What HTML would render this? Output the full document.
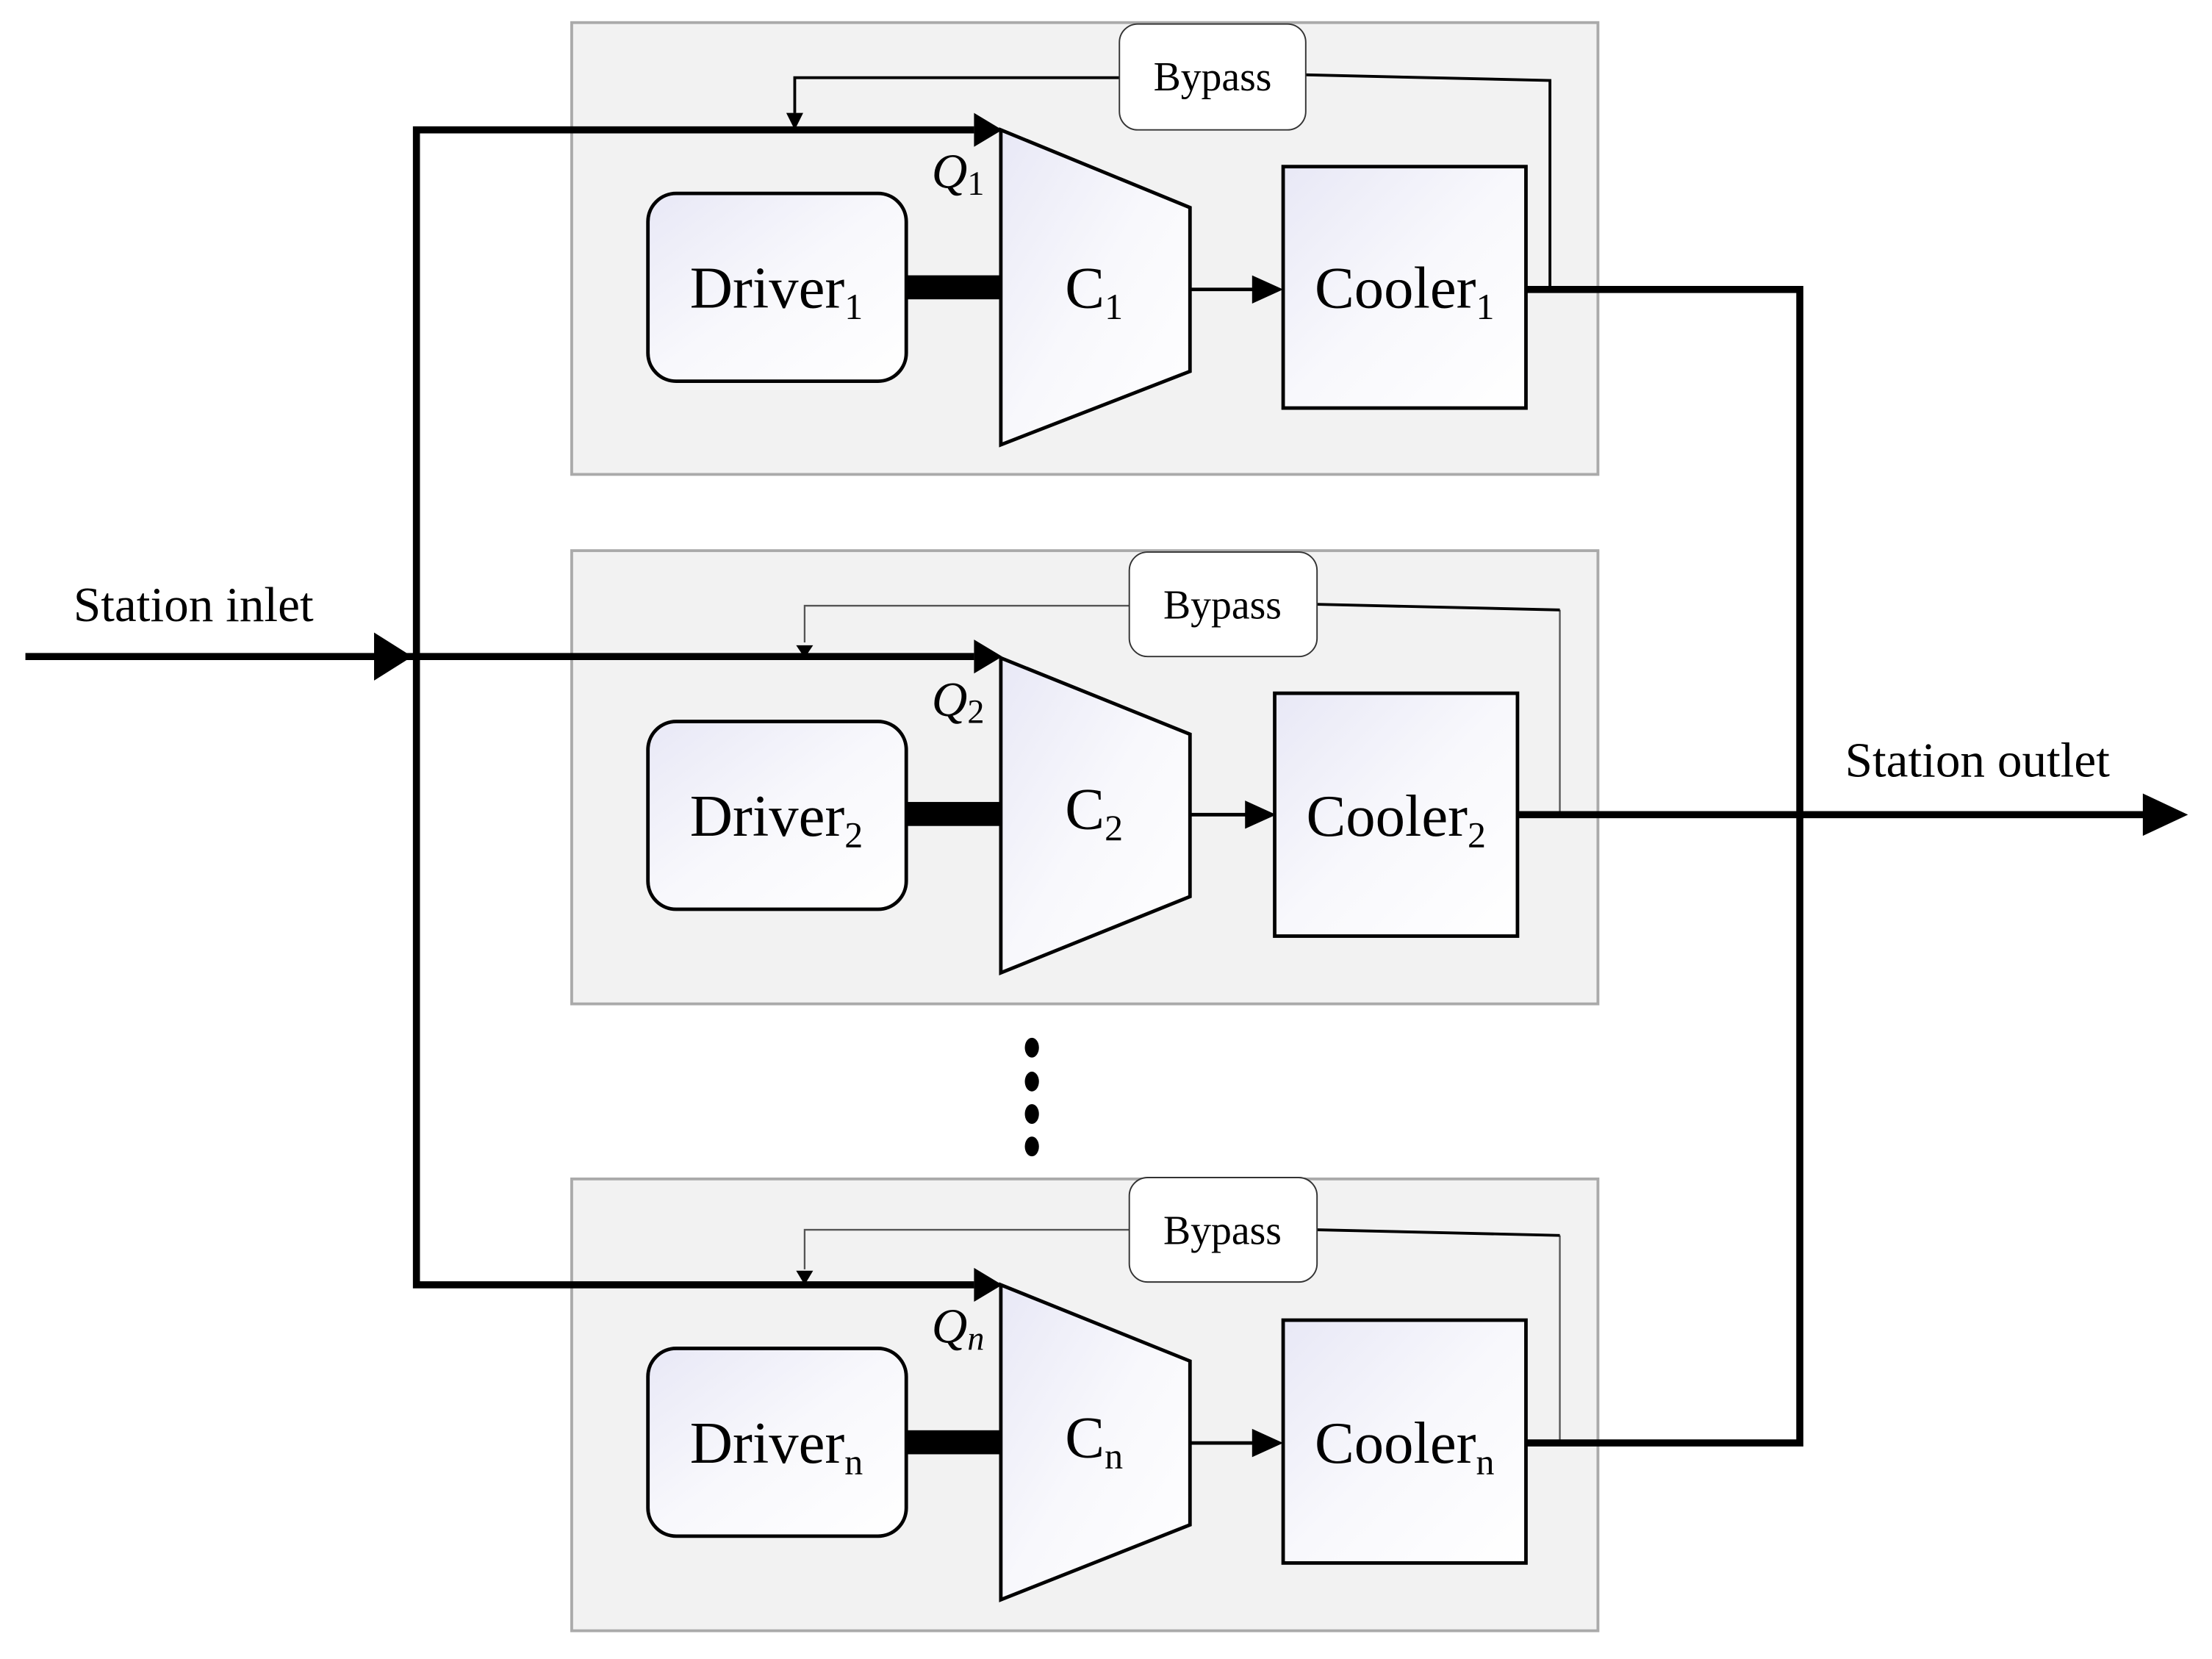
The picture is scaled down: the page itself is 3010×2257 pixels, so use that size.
<!DOCTYPE html>
<html><head><style>html,body{margin:0;padding:0;background:#fff}svg{display:block}</style></head>
<body>
<svg width="3010" height="2257" viewBox="0 0 1567 1175" preserveAspectRatio="none" xmlns="http://www.w3.org/2000/svg" font-family="Liberation Serif, serif">
<defs>
<linearGradient id="g" x1="0" y1="0" x2="1" y2="1"><stop offset="0" stop-color="#e8e8f6"/><stop offset="0.5" stop-color="#f8f8fc"/><stop offset="1" stop-color="#ffffff"/></linearGradient>
</defs>
<g fill="#f2f2f2" stroke="#aaa" stroke-width="2">
<rect x="405" y="16" width="727" height="320"/>
<rect x="405" y="390" width="727" height="321"/>
<rect x="405" y="835" width="727" height="320"/>
</g>
<g fill="none" stroke="#000" stroke-width="2">
<polyline points="925,53 1098,57 1098,205"/>
<polyline points="793,55 563,55 563,80"/>
</g>
<polygon points="557,80 569,80 563,92" fill="#000"/>
<g fill="none" stroke="#555" stroke-width="1.2">
<polyline points="800,429 570,429 570,455"/>
<polyline points="800,871 570,871 570,899"/>
<polyline points="1105,432 1105,575"/>
<polyline points="1105,875 1105,1020"/>
</g>
<g stroke="#000" stroke-width="2" fill="none"><line x1="933" y1="428" x2="1105" y2="432"/><line x1="933" y1="871" x2="1105" y2="875"/></g>
<polygon points="564,457 576,457 570,466" fill="#000"/>
<polygon points="564,900 576,900 570,910" fill="#000"/>
<g fill="#fff" stroke="#333" stroke-width="1">
<rect x="793" y="17" width="132" height="75" rx="13"/>
<rect x="800" y="391" width="133" height="74" rx="13"/>
<rect x="800" y="834" width="133" height="74" rx="13"/>
</g>
<g font-size="29" text-anchor="middle"><text x="859" y="64">Bypass</text><text x="866" y="438">Bypass</text><text x="866" y="881">Bypass</text></g>
<g fill="none" stroke="#000" stroke-width="5">
<polyline points="690,92 295,92 295,910 690,910"/>
<line x1="18" y1="465" x2="690" y2="465"/>
<polyline points="1081,205 1275,205 1275,1022 1081,1022"/>
<line x1="1075" y1="577" x2="1520" y2="577"/>
</g>
<g fill="#000">
<polygon points="690,80 710,92 690,104"/>
<polygon points="690,453 710,465 690,477"/>
<polygon points="690,898 710,910 690,922"/>
<polygon points="265,448 292,465 265,482"/>
<polygon points="1518,562 1550,577 1518,592"/>
<rect x="642" y="195" width="67" height="17"/>
<rect x="642" y="568" width="67" height="17"/>
<rect x="642" y="1013" width="67" height="17"/>
</g>
<g stroke="#000" stroke-width="2.5"><line x1="843" y1="205" x2="892" y2="205"/><line x1="843" y1="577" x2="887" y2="577"/><line x1="843" y1="1022" x2="892" y2="1022"/></g>
<g fill="#000"><polygon points="887,195 909,205 887,215"/><polygon points="882,567 904,577 882,587"/><polygon points="887,1012 909,1022 887,1032"/></g>
<g fill="url(#g)" stroke="#000" stroke-width="2.5">
<rect x="459" y="137" width="183" height="133" rx="20"/>
<rect x="459" y="511" width="183" height="133" rx="20"/>
<rect x="459" y="955" width="183" height="133" rx="20"/>
<polygon points="709,92 843,147 843,263 709,315"/>
<polygon points="709,466 843,520 843,635 709,689"/>
<polygon points="709,910 843,964 843,1080 709,1133"/>
<rect x="909" y="118" width="172" height="171"/>
<rect x="903" y="491" width="172" height="172"/>
<rect x="909" y="935" width="172" height="172"/>
</g>
<g font-size="42" text-anchor="middle">
<text x="550" y="218">Driver<tspan font-size="26" dy="8">1</tspan></text>
<text x="550" y="592">Driver<tspan font-size="26" dy="8">2</tspan></text>
<text x="550" y="1036">Driver<tspan font-size="26" dy="8">n</tspan></text>
<text x="775" y="218">C<tspan font-size="26" dy="8">1</tspan></text>
<text x="775" y="587">C<tspan font-size="26" dy="8">2</tspan></text>
<text x="775" y="1032">C<tspan font-size="26" dy="8">n</tspan></text>
<text x="995" y="218">Cooler<tspan font-size="26" dy="8">1</tspan></text>
<text x="989" y="592">Cooler<tspan font-size="26" dy="8">2</tspan></text>
<text x="995" y="1036">Cooler<tspan font-size="26" dy="8">n</tspan></text>
</g>
<g font-size="35">
<text x="52" y="440">Station inlet</text>
<text x="1307" y="550">Station outlet</text>
<text x="660" y="133" font-style="italic">Q<tspan font-size="24" font-style="normal" dy="5">1</tspan></text>
<text x="660" y="507" font-style="italic">Q<tspan font-size="24" font-style="normal" dy="5">2</tspan></text>
<text x="660" y="951" font-style="italic">Q<tspan font-size="24" dy="5">n</tspan></text>
</g>
<g fill="#000"><ellipse cx="731" cy="742" rx="5" ry="7"/><ellipse cx="731" cy="766" rx="5" ry="7"/><ellipse cx="731" cy="789" rx="5" ry="7"/><ellipse cx="731" cy="812" rx="5" ry="7"/></g>
</svg>
</body></html>
